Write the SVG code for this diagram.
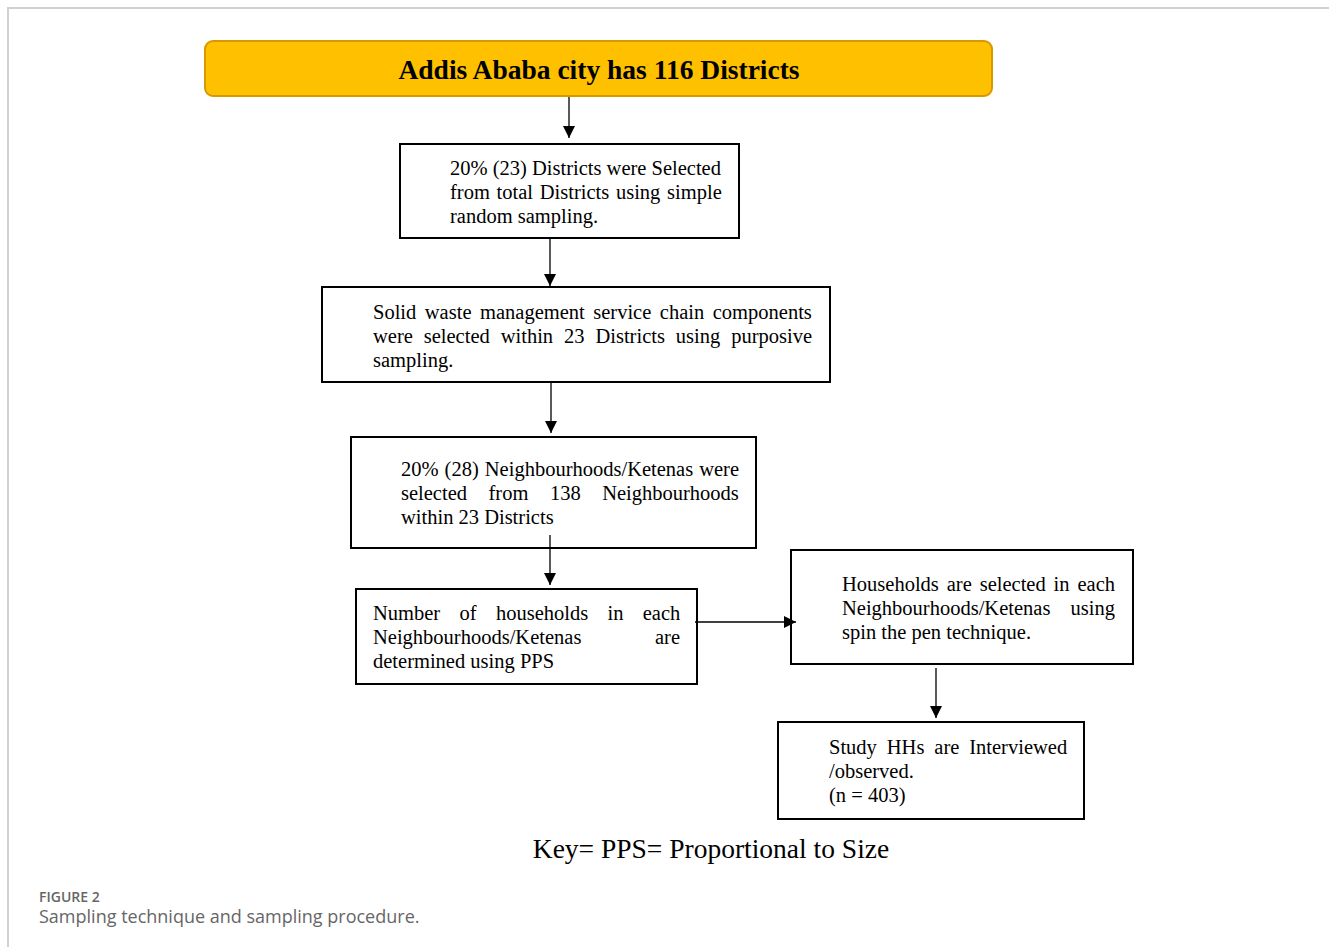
<svg xmlns="http://www.w3.org/2000/svg" width="1329" height="947" viewBox="0 0 1329 947">
<style>
.box{fill:#fff;stroke:#000;stroke-width:2}
.t{font-family:"Liberation Serif","Times New Roman",serif;font-size:20.5px;fill:#000}
.c{stroke:#000;stroke-width:1.3;fill:none;marker-end:url(#ah)}
.cap{font-family:"Open Sans","Noto Sans",sans-serif;fill:#666}
</style>
<defs>
<marker id="ah" viewBox="0 0 10 10" refX="10" refY="5" markerWidth="12" markerHeight="12" markerUnits="userSpaceOnUse" orient="auto">
<path d="M0,0 L10,5 L0,10 z" fill="#000"/>
</marker>
</defs>
<rect x="0" y="0" width="1329" height="947" fill="#fff"/>
<path d="M8,947 V8 H1329" stroke="#d0d0d0" stroke-width="2" fill="none"/>
<g id="n0">
<rect x="205" y="41" width="787" height="55" rx="8" fill="#FFC000" stroke="#D69A00" stroke-width="2"/>
<text x="599" y="79" text-anchor="middle" font-family="Liberation Serif,serif" font-weight="bold" font-size="27.5">Addis Ababa city has 116 Districts</text>
</g>
<g id="n1">
<rect class="box" x="400" y="144" width="339" height="94"/>
<text class="t" x="450" y="175">20% (23) Districts were Selected</text>
<text class="t" x="450" y="199" word-spacing="1.6">from total Districts using simple</text>
<text class="t" x="450" y="223">random sampling.</text>
</g>
<g id="n2">
<rect class="box" x="322" y="287" width="508" height="95"/>
<text class="t" x="373" y="319" word-spacing="3.4">Solid waste management service chain components</text>
<text class="t" x="373" y="343" word-spacing="5.8">were selected within 23 Districts using purposive</text>
<text class="t" x="373" y="367">sampling.</text>
</g>
<g id="n3">
<rect class="box" x="351" y="437" width="405" height="111"/>
<text class="t" x="401" y="476" word-spacing="0.9">20% (28) Neighbourhoods/Ketenas were</text>
<text class="t" x="401" y="500" word-spacing="16.4">selected from 138 Neighbourhoods</text>
<text class="t" x="401" y="524">within 23 Districts</text>
</g>
<g id="n4">
<rect class="box" x="356" y="589" width="341" height="95"/>
<text class="t" x="373" y="620" word-spacing="14.2">Number of households in each</text>
<text class="t" x="373" y="644">Neighbourhoods/Ketenas</text>
<text class="t" x="680" y="644" text-anchor="end">are</text>
<text class="t" x="373" y="668">determined using PPS</text>
</g>
<g id="n5">
<rect class="box" x="791" y="550" width="342" height="114"/>
<text class="t" x="842" y="591" word-spacing="2.8">Households are selected in each</text>
<text class="t" x="842" y="615">Neighbourhoods/Ketenas</text>
<text class="t" x="1115" y="615" text-anchor="end">using</text>
<text class="t" x="842" y="639">spin the pen technique.</text>
</g>
<g id="n6">
<rect class="box" x="778" y="722" width="306" height="97"/>
<text class="t" x="829" y="754" word-spacing="4.8">Study HHs are Interviewed</text>
<text class="t" x="829" y="778">/observed.</text>
<text class="t" x="829" y="802">(n = 403)</text>
</g>
<g id="connectors">
<line class="c" x1="569" y1="97" x2="569" y2="138"/>
<line class="c" x1="550" y1="238" x2="550" y2="286"/>
<line class="c" x1="551" y1="383" x2="551" y2="433"/>
<line class="c" x1="550" y1="535" x2="550" y2="585"/>
<line class="c" x1="695" y1="622" x2="796" y2="622"/>
<line class="c" x1="936" y1="668" x2="936" y2="718"/>
</g>
<text x="711" y="858" text-anchor="middle" font-family="Liberation Serif,serif" font-size="27.5">Key= PPS= Proportional to Size</text>
<text class="cap" x="39" y="902" font-size="14" font-weight="600">FIGURE 2</text>
<text class="cap" x="39" y="923" font-size="18">Sampling technique and sampling procedure.</text>
</svg>
